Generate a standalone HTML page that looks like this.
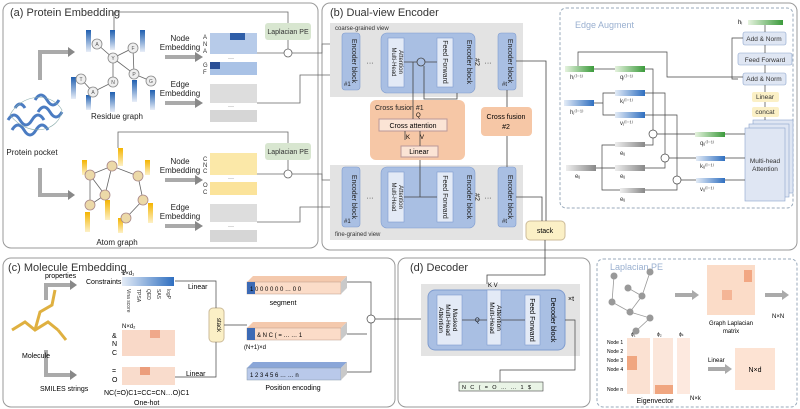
<!DOCTYPE html>
<html><head><meta charset="utf-8"><style>
html,body{margin:0;padding:0;background:#fff}
svg{display:block;font-family:"Liberation Sans",sans-serif}
</style></head><body>
<svg width="800" height="409" viewBox="0 0 800 409" xmlns="http://www.w3.org/2000/svg">
<defs>
<linearGradient id="gb" x1="0" x2="1"><stop offset="0" stop-color="#e4ecf7"/><stop offset="1" stop-color="#2f6fc0"/></linearGradient>
<linearGradient id="gg" x1="0" x2="1"><stop offset="0" stop-color="#e6f3df"/><stop offset="1" stop-color="#3b9a3b"/></linearGradient>
<linearGradient id="gy" x1="0" x2="1"><stop offset="0" stop-color="#eee"/><stop offset="1" stop-color="#888"/></linearGradient>
<linearGradient id="gv" y1="0" y2="1" x1="0" x2="0"><stop offset="0" stop-color="#1f5fb0"/><stop offset="1" stop-color="#e8eef8"/></linearGradient>
<linearGradient id="gyl" y1="0" y2="1" x1="0" x2="0"><stop offset="0" stop-color="#f4b400"/><stop offset="1" stop-color="#fdf1c7"/></linearGradient>
</defs>
<g fill="none" stroke="#999" stroke-width="1">
<rect x="3" y="3" width="315" height="245" rx="8"/>
<rect x="322" y="3" width="475" height="247" rx="8"/>
<rect x="3" y="258" width="392" height="149" rx="8"/>
<rect x="398" y="258" width="192" height="149" rx="8"/>
</g>
<rect x="560" y="8" width="233" height="200" rx="6" fill="none" stroke="#9ab" stroke-dasharray="3,2"/>
<rect x="597" y="259" width="200" height="148" rx="6" fill="none" stroke="#9ab" stroke-dasharray="3,2"/>
<g font-size="11" fill="#333">
<text x="10" y="16">(a) Protein Embedding</text>
<text x="330" y="16">(b) Dual-view Encoder</text>
<text x="8" y="271">(c) Molecule Embedding</text>
<text x="410" y="271">(d) Decoder</text>
</g>
<text x="575" y="28" font-size="9" fill="#9ab0d0">Edge Augment</text>
<text x="610" y="270" font-size="9" fill="#9ab0d0">Laplacian PE</text>

<!-- (a) -->
<g fill="none" stroke="#aaa" stroke-width="4">
<path d="M40,80 V52 H68"/><path d="M40,168 V195 H68"/>
<path d="M165,57 H195"/><path d="M165,103 H195"/><path d="M165,180 H195"/><path d="M165,226 H195"/>
</g>
<g fill="#888"><path d="M195,52 l8,5 l-8,5z"/><path d="M195,98 l8,5 l-8,5z"/><path d="M195,175 l8,5 l-8,5z"/><path d="M195,221 l8,5 l-8,5z"/><path d="M68,47 l7,5 l-7,5z"/><path d="M68,190 l7,5 l-7,5z"/></g>
<g fill="none" stroke="#2c66b8" stroke-width="3" opacity=".85"><path d="M8,120 q6,-10 12,0 t12,0 t12,0"/><path d="M12,130 q6,-10 12,0 t12,0 t12,0"/><path d="M35,100 q6,-10 12,0 t12,0"/><path d="M38,112 q6,-10 12,0 t12,0"/><path d="M15,108 q5,-8 10,0"/></g>
<g fill="none" stroke="#8aa" stroke-width=".6"><path d="M10,115 C20,95 50,90 62,110 C60,130 30,140 10,115z"/></g>
<text x="32" y="155" font-size="8" text-anchor="middle" fill="#222">Protein pocket</text>
<g stroke="#666" stroke-width=".8" fill="none"><path d="M97,44 L113,58 L133,48 M113,58 L134,74 L151,81 M113,58 L113,82 L93,92 L81,79 M133,48 L134,74"/></g>
<g fill="url(#gv)"><rect x="86" y="30" width="5" height="22"/><rect x="110" y="30" width="5" height="20"/><rect x="140" y="30" width="5" height="22"/><rect x="71" y="77" width="5" height="22"/><rect x="132" y="80" width="5" height="22"/><rect x="110" y="92" width="5" height="20"/><rect x="150" y="90" width="5" height="20"/><rect x="86" y="95" width="5" height="15"/></g>
<g fill="#eee" stroke="#888" stroke-width=".8"><circle cx="97" cy="44" r="5"/><circle cx="113" cy="58" r="5"/><circle cx="133" cy="48" r="5"/><circle cx="81" cy="79" r="5"/><circle cx="113" cy="82" r="5"/><circle cx="134" cy="74" r="5"/><circle cx="151" cy="81" r="5"/><circle cx="93" cy="92" r="5"/></g>
<g font-size="5" text-anchor="middle" fill="#555"><text x="97" y="46">A</text><text x="113" y="60">Y</text><text x="133" y="50">F</text><text x="81" y="81">T</text><text x="113" y="84">N</text><text x="134" y="76">P</text><text x="151" y="83">G</text><text x="93" y="94">A</text></g>
<text x="117" y="119" font-size="8" text-anchor="middle" fill="#222">Residue graph</text>
<g stroke="#666" stroke-width=".8" fill="none"><path d="M90,175 L112,166 L138,176 L143,200 L126,218 M112,166 L105,195 L90,205 L90,175 M105,195 L90,175"/></g>
<g fill="url(#gyl)"><rect x="82" y="160" width="5" height="15"/><rect x="118" y="148" width="5" height="18"/><rect x="145" y="160" width="5" height="15"/><rect x="85" y="212" width="5" height="20"/><rect x="105" y="200" width="5" height="20"/><rect x="148" y="203" width="5" height="20"/><rect x="118" y="218" width="5" height="15"/></g>
<g fill="#ecd9a8" stroke="#a88" stroke-width=".8"><circle cx="90" cy="175" r="5"/><circle cx="112" cy="166" r="5"/><circle cx="138" cy="176" r="5"/><circle cx="105" cy="195" r="5"/><circle cx="90" cy="205" r="5"/><circle cx="143" cy="200" r="5"/><circle cx="126" cy="218" r="5"/></g>
<text x="117" y="245" font-size="8" text-anchor="middle" fill="#222">Atom graph</text>
<g font-size="8" text-anchor="middle" fill="#222"><text x="180" y="41">Node</text><text x="180" y="50">Embedding</text><text x="180" y="87">Edge</text><text x="180" y="96">Embedding</text><text x="180" y="164">Node</text><text x="180" y="173">Embedding</text><text x="180" y="210">Edge</text><text x="180" y="219">Embedding</text></g>
<rect x="210" y="33" width="47" height="21" fill="#b7cbe9"/><rect x="230" y="33" width="15" height="7" fill="#2f5ea8"/>
<rect x="210" y="62" width="47" height="13" fill="#a9c2e6"/><rect x="210" y="62" width="10" height="7" fill="#2a4f96"/>
<rect x="210" y="84" width="47" height="19" fill="#ddd"/><rect x="210" y="110" width="47" height="12" fill="#d6d6d6"/>
<rect x="210" y="153" width="47" height="22" fill="#fbe8a8"/><rect x="210" y="182" width="47" height="13" fill="#fbe39a"/>
<rect x="210" y="204" width="47" height="18" fill="#ddd"/><rect x="210" y="230" width="47" height="12" fill="#d6d6d6"/>
<g font-size="6" fill="#333"><text x="203" y="39">A</text><text x="203" y="46">N</text><text x="203" y="53">A</text><text x="203" y="67">G</text><text x="203" y="74">F</text><text x="203" y="161">C</text><text x="203" y="167">N</text><text x="203" y="173">C</text><text x="203" y="187">O</text><text x="203" y="194">C</text><text x="228" y="60">···</text><text x="228" y="108">···</text><text x="228" y="180">···</text><text x="228" y="228">···</text></g>
<rect x="265" y="23" width="46" height="17" rx="3" fill="#d8e6d0"/><text x="288" y="34" font-size="7" text-anchor="middle" fill="#333">Laplacian PE</text>
<rect x="265" y="143" width="46" height="17" rx="3" fill="#d8e6d0"/><text x="288" y="154" font-size="7" text-anchor="middle" fill="#333">Laplacian PE</text>
<g fill="none" stroke="#666" stroke-width=".8"><circle cx="288" cy="53" r="4"/><circle cx="288" cy="174" r="4"/>
<path d="M114,30 V12 H288 V23"/><path d="M118,148 V132 H288 V143"/><path d="M288,40 V49"/><path d="M288,160 V170"/>
<path d="M257,53 H284"/><path d="M292,53 H322 V44 H342"/><path d="M257,103 H300 V75 H342"/>
<path d="M257,174 H284"/><path d="M292,174 H322 V180 H342"/><path d="M257,222 H300 V207 H342"/></g>

<!-- (b) -->
<rect x="330" y="23" width="193" height="74" fill="#e3e3e3"/><rect x="330" y="165" width="193" height="75" fill="#e3e3e3"/>
<text x="335" y="30" font-size="6" fill="#333">coarse-grained view</text><text x="335" y="236" font-size="6" fill="#333">fine-grained view</text>
<g fill="#a9bfe3" stroke="#7f9ccf" stroke-width=".6">
<rect x="342" y="33" width="18" height="57" rx="3"/><rect x="381" y="33" width="94" height="60" rx="6"/><rect x="498" y="33" width="18" height="57" rx="3"/>
<rect x="342" y="167" width="18" height="60" rx="3"/><rect x="381" y="167" width="94" height="61" rx="6"/><rect x="498" y="167" width="18" height="60" rx="3"/></g>
<g fill="#e3eaf6" stroke="#7f9ccf" stroke-width=".6"><rect x="388" y="38" width="16" height="49"/><rect x="437" y="38" width="16" height="49"/><rect x="388" y="172" width="16" height="50"/><rect x="437" y="172" width="16" height="50"/></g>
<g font-size="7" fill="#222" text-anchor="middle">
<text transform="translate(351,61) rotate(90)" dy="-1">Encoder block</text><text transform="translate(351,61) rotate(90)" dy="-1" dx="0"></text>
<text transform="translate(507,61) rotate(90)" dy="-1">Encoder block</text><text transform="translate(467,62) rotate(90)">Encoder block</text><text transform="translate(467,62) rotate(90)" dy="-8">#2</text>
<text transform="translate(351,197) rotate(90)" dy="-1">Encoder block</text><text transform="translate(507,197) rotate(90)" dy="-1">Encoder block</text><text transform="translate(467,197) rotate(90)">Encoder block</text><text transform="translate(467,197) rotate(90)" dy="-8">#2</text>
<text transform="translate(445,62) rotate(90)" dy="2">Feed Forward</text><text transform="translate(445,197) rotate(90)" dy="2">Feed Forward</text>
<text transform="translate(397,62) rotate(90)" font-size="6" dy="5">Multi-Head</text><text transform="translate(397,62) rotate(90)" dy="-2" font-size="6">Attention</text>
<text transform="translate(397,197) rotate(90)" font-size="6" dy="5">Multi-Head</text><text transform="translate(397,197) rotate(90)" dy="-2" font-size="6">Attention</text>
<text x="370" y="65">···</text><text x="488" y="65">···</text><text x="370" y="200">···</text><text x="488" y="200">···</text></g>
<g font-size="6" fill="#222"><text x="344" y="86">#1</text><text x="344" y="223">#1</text><text x="502" y="86">#t</text><text x="502" y="223">#t</text></g>
<rect x="370" y="100" width="95" height="60" rx="6" fill="#f6c7a6"/><text x="375" y="110" font-size="7" fill="#222">Cross fusion #1</text>
<rect x="379" y="119" width="68" height="12" fill="#fbe4d5" stroke="#b99"/><text x="413" y="128" font-size="7" text-anchor="middle">Cross attention</text>
<rect x="401" y="146" width="37" height="11" fill="#fbe4d5" stroke="#b99"/><text x="419" y="154" font-size="7" text-anchor="middle">Linear</text>
<rect x="481" y="107" width="51" height="29" rx="4" fill="#f6c7a6"/><text x="506" y="119" font-size="7" text-anchor="middle">Cross fusion</text><text x="506" y="129" font-size="7" text-anchor="middle">#2</text>
<rect x="526" y="221" width="39" height="19" rx="4" fill="#fbf0c6" stroke="#cb9"/><text x="545" y="233" font-size="7" text-anchor="middle">stack</text>
<g fill="none" stroke="#444" stroke-width=".8"><circle cx="421" cy="62" r="4"/><path d="M404,62 H417 M425,62 H437"/><path d="M413,62 V119 M457,93 V99 H424 V66"/><path d="M420,146 V131 M405,140 V131"/><path d="M420,197 V160 M404,197 H437"/><path d="M507,90 V107 M507,136 V167"/><path d="M516,61 H546 V221 M516,197 H542 V221"/><path d="M545,240 V275 H487 V290"/></g>
<g font-size="6"><text x="416" y="117">Q</text><text x="406" y="139">K</text><text x="420" y="139">V</text></g>

<!-- Edge augment -->
<g fill="#dfe6f3" stroke="#8aa3cc" stroke-width=".6"><rect x="743" y="32" width="43" height="13" rx="2"/><rect x="738" y="53" width="54" height="12" rx="2"/><rect x="743" y="73" width="43" height="12" rx="2"/>
<rect x="753" y="120" width="40" height="73"/><rect x="749" y="124" width="40" height="73"/><rect x="745" y="128" width="40" height="73"/></g>
<rect x="752" y="92" width="27" height="10" rx="2" fill="#fbf0c6"/><rect x="752" y="107" width="27" height="10" rx="2" fill="#fbf0c6"/>
<g font-size="6.5" text-anchor="middle" fill="#333"><text x="764" y="41">Add &amp; Norm</text><text x="765" y="62">Feed Forward</text><text x="764" y="81">Add &amp; Norm</text><text x="765" y="99">Linear</text><text x="765" y="114">concat</text><text x="765" y="163">Multi-head</text><text x="765" y="171">Attention</text></g>
<rect x="748" y="20" width="35" height="5" fill="url(#gg)"/><text x="738" y="24" font-size="6">hᵢ</text>
<g>
<rect x="565" y="66" width="29" height="6" fill="url(#gg)"/><rect x="615" y="66" width="30" height="6" fill="url(#gg)"/>
<rect x="615" y="90" width="30" height="6" fill="url(#gb)"/><rect x="564" y="100" width="30" height="6" fill="url(#gb)"/><rect x="615" y="112" width="30" height="6" fill="url(#gb)"/>
<rect x="615" y="142" width="30" height="5" fill="url(#gy)"/><rect x="566" y="165" width="30" height="6" fill="url(#gy)"/><rect x="615" y="165" width="30" height="6" fill="url(#gy)"/><rect x="620" y="188" width="25" height="5" fill="url(#gy)"/>
<rect x="695" y="132" width="30" height="5" fill="url(#gg)"/><rect x="696" y="156" width="29" height="5" fill="url(#gb)"/><rect x="696" y="178" width="29" height="5" fill="url(#gb)"/></g>
<g fill="none" stroke="#444" stroke-width=".7"><path d="M578,66 V52 H667 V77 H743"/><path d="M594,69 H615"/><path d="M594,103 H603 V93 H615 M603,103 V115 H615"/><path d="M596,168 H602 V145 H615 M602,168 V190 H620 M602,168 H615"/>
<path d="M645,69 H653 V130 M645,93 H665 V154 M645,115 H677 V176 M645,145 H653 V138 M645,168 H665 V162 M645,190 H677 V184"/>
<circle cx="653" cy="134" r="4"/><circle cx="665" cy="158" r="4"/><circle cx="677" cy="180" r="4"/>
<path d="M657,134 H695 M669,158 H696 M681,180 H696 M725,134 H745 M725,158 H745 M725,180 H745"/>
<path d="M765,120 V117 M765,107 V102 M765,92 V85 M765,73 V65 M765,53 V45 M738,79 H732 V38 H743 M765,32 V25"/></g>
<g font-size="6" fill="#333"><text x="570" y="79">hᵢ⁽ˡ⁻¹⁾</text><text x="620" y="79">qᵢ⁽ˡ⁻¹⁾</text><text x="620" y="103">kⱼ⁽ˡ⁻¹⁾</text><text x="570" y="114">hⱼ⁽ˡ⁻¹⁾</text><text x="620" y="125">vⱼ⁽ˡ⁻¹⁾</text><text x="620" y="155">eᵢⱼ</text><text x="575" y="178">eᵢⱼ</text><text x="620" y="178">eᵢⱼ</text><text x="620" y="201">eᵢⱼ</text><text x="700" y="145">qᵢⱼ⁽ˡ⁻¹⁾</text><text x="700" y="168">kᵢⱼ⁽ˡ⁻¹⁾</text><text x="700" y="191">vᵢⱼ⁽ˡ⁻¹⁾</text></g>

<!-- (c) -->
<g fill="none" stroke="#aaa" stroke-width="4"><path d="M46,300 V285 H70"/><path d="M46,350 V375 H70"/></g>
<g fill="#888"><path d="M70,280 l7,5 l-7,5z"/><path d="M70,370 l7,5 l-7,5z"/></g>
<g fill="none" stroke="#d9a21f" stroke-width="3" opacity=".85"><path d="M12,330 L25,322 L35,330 L48,322 L58,330 M35,330 L40,312 L52,305 L55,290 M58,330 L66,340"/></g>
<text x="36" y="358" font-size="7" text-anchor="middle">Molecule</text>
<text x="45" y="278" font-size="7">properties</text><text x="40" y="391" font-size="7">SMILES strings</text>
<text x="86" y="284" font-size="7">Constraints</text><text x="122" y="275" font-size="6">1×d₁</text>
<rect x="122" y="277" width="52" height="9" fill="url(#gb)"/>
<g font-size="5" fill="#333"><text transform="translate(127,289) rotate(90)">Vina score</text><text transform="translate(137,289) rotate(90)">TPSA</text><text transform="translate(147,289) rotate(90)">QED</text><text transform="translate(157,289) rotate(90)">SAS</text><text transform="translate(167,289) rotate(90)">logP</text></g>
<text x="188" y="289" font-size="7">Linear</text><text x="186" y="376" font-size="7">Linear</text>
<text x="122" y="328" font-size="6">N×d₂</text>
<rect x="122" y="330" width="53" height="26" fill="#f9d9c8"/><rect x="150" y="330" width="10" height="8" fill="#f0a88a"/><rect x="122" y="367" width="53" height="18" fill="#f9dccc"/><rect x="140" y="367" width="10" height="8" fill="#ec9e7c"/>
<g font-size="7"><text x="112" y="338">&amp;</text><text x="112" y="346">N</text><text x="112" y="355">C</text><text x="112" y="373">=</text><text x="112" y="382">O</text></g>
<text x="104" y="395" font-size="7">NC(=O)C1=CC=CN…O)C1</text><text x="134" y="405" font-size="7">One-hot</text>
<rect x="209" y="308" width="15" height="34" rx="4" fill="#fbf0c6" stroke="#cb9"/><text transform="translate(217,325) rotate(90)" font-size="6" text-anchor="middle">stack</text>
<g fill="none" stroke="#444" stroke-width=".7"><path d="M175,281 H216 V308 M175,377 H216 V342 M224,325 H247"/><path d="M347,282 H371 V315 M347,334 H367 M347,372 H371 V323 M375,319 H428"/><circle cx="371" cy="319" r="4"/></g>
<g>
<path d="M247,282 l6,-6 h94 l-6,6z" fill="#f4c9ad"/><rect x="247" y="282" width="94" height="12" fill="#fbdcc8" stroke="#b98" stroke-width=".5"/><rect x="247" y="282" width="8" height="12" fill="#3c6ab5"/><path d="M341,282 l6,-6 v12 l-6,6z" fill="#c9c9c9"/>
<path d="M247,328 l6,-6 h94 l-6,6z" fill="#f4c9ad"/><rect x="247" y="328" width="94" height="12" fill="#fbdcc8" stroke="#b98" stroke-width=".5"/><rect x="247" y="328" width="8" height="12" fill="#3c6ab5"/><path d="M341,328 l6,-6 v12 l-6,6z" fill="#c9c9c9"/>
<path d="M247,368 l6,-6 h94 l-6,6z" fill="#8aa6d8"/><rect x="247" y="368" width="94" height="12" fill="#b9c9ea" stroke="#89a" stroke-width=".5"/><path d="M341,368 l6,-6 v12 l-6,6z" fill="#c9c9c9"/></g>
<g font-size="6"><text x="250" y="291">1 0 0 0 0 0 0 … 0 0</text><text x="257" y="337">&amp; N C ( = … … 1</text><text x="250" y="377">1 2 3 4 5 6 … … n</text></g>
<text x="283" y="305" font-size="7" text-anchor="middle">segment</text><text x="244" y="349" font-size="6">(N+1)×d</text><text x="293" y="390" font-size="7" text-anchor="middle">Position encoding</text>

<!-- (d) -->
<rect x="421" y="284" width="159" height="72" fill="#e3e3e3"/>
<rect x="428" y="290" width="137" height="60" rx="7" fill="#a9bfe3" stroke="#7f9ccf"/>
<g fill="#e3eaf6" stroke="#7f9ccf" stroke-width=".6"><rect x="437" y="295" width="25" height="50"/><rect x="487" y="290" width="14" height="55"/><rect x="525" y="295" width="15" height="50"/></g>
<g font-size="6.5" text-anchor="middle"><text transform="translate(449,320) rotate(90)" dy="-4">Masked</text><text transform="translate(449,320) rotate(90)" dy="3">Multi-Head</text><text transform="translate(449,320) rotate(90)" dy="10">Attention</text>
<text transform="translate(494,318) rotate(90)" dy="4">Multi-Head</text><text transform="translate(494,318) rotate(90)" dy="-3">Attention</text>
<text transform="translate(532,320) rotate(90)" font-size="7" dy="2">Feed Forward</text><text transform="translate(553,320) rotate(90)" font-size="7" dy="2">Decoder block</text></g>
<text x="568" y="301" font-size="7">×t</text><text x="488" y="287" font-size="6">K V</text><text x="475" y="322" font-size="6">Q</text>
<g fill="none" stroke="#444" stroke-width=".7"><path d="M462,320 H487 M501,320 H525 M565,320 H575 V370 H500 V382"/></g>
<rect x="459" y="382" width="84" height="9" fill="#e9f4e6" stroke="#444" stroke-width=".6"/><text x="462" y="389" font-size="5.5" letter-spacing="1.4">N C ( = O … … 1 $</text>

<!-- Laplacian PE -->
<g stroke="#999" stroke-width=".8" fill="none"><path d="M614,276 L612,302 L630,312 L642,296 L650,272 M630,312 L650,318 L636,331 M642,296 L628,288"/></g>
<g fill="#999"><circle cx="614" cy="276" r="3.5"/><circle cx="612" cy="302" r="3.5"/><circle cx="630" cy="312" r="3.5"/><circle cx="642" cy="296" r="3.5"/><circle cx="650" cy="272" r="3.5"/><circle cx="650" cy="318" r="3.5"/><circle cx="636" cy="331" r="3.5"/><circle cx="628" cy="288" r="3.5"/></g>
<g fill="none" stroke="#aaa" stroke-width="4"><path d="M675,295 H692"/><path d="M765,295 H782"/><path d="M708,369 H725"/></g>
<g fill="#aaa"><path d="M692,290 l7,5 l-7,5z"/><path d="M782,290 l7,5 l-7,5z"/><path d="M725,364 l7,5 l-7,5z"/></g>
<rect x="707" y="265" width="48" height="50" fill="#fbdcc8"/><rect x="744" y="270" width="8" height="12" fill="#f2a783"/><rect x="722" y="290" width="10" height="10" fill="#f4b596"/>
<text x="731" y="325" font-size="6" text-anchor="middle">Graph Laplacian</text><text x="731" y="333" font-size="6" text-anchor="middle">matrix</text><text x="772" y="318" font-size="6">N×N</text>
<rect x="627" y="338" width="23" height="56" fill="#fbe1d2"/><rect x="653" y="338" width="20" height="56" fill="#fbe6da"/><rect x="677" y="338" width="13" height="56" fill="#fde9df"/><rect x="627" y="356" width="10" height="14" fill="#f0a680"/><rect x="655" y="385" width="18" height="9" fill="#f0a680"/>
<g font-size="5"><text x="607" y="344">Node 1</text><text x="607" y="353">Node 2</text><text x="607" y="362">Node 3</text><text x="607" y="371">Node 4</text><text x="607" y="391">Node n</text><text x="631" y="336">ϕ₁</text><text x="657" y="336">ϕ₂</text><text x="679" y="336">ϕₖ</text></g>
<text x="655" y="403" font-size="7" text-anchor="middle">Eigenvector</text><text x="690" y="400" font-size="6">N×k</text>
<text x="708" y="362" font-size="6">Linear</text>
<rect x="735" y="348" width="40" height="42" fill="#fde3d3"/><text x="755" y="372" font-size="7" text-anchor="middle">N×d</text>
</svg>
</body></html>
